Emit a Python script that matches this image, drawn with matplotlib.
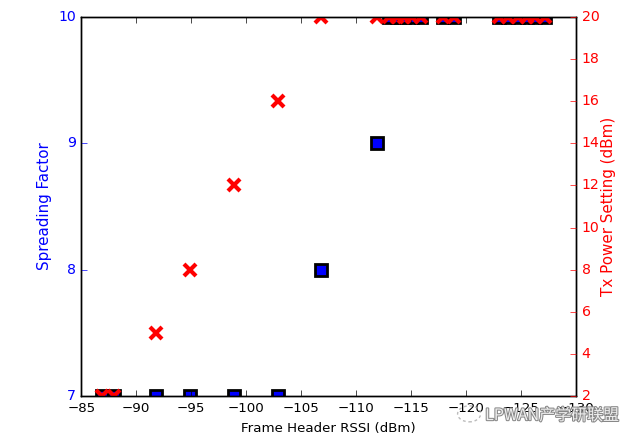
import matplotlib
matplotlib.use("Agg")
import matplotlib.pyplot as plt
import matplotlib.patheffects as pe
from matplotlib.patches import Circle

plt.style.use("classic")

rssi = [-86.9, -88.0, -91.8, -94.9, -98.9, -102.9, -106.8, -111.9,
        -113.0, -113.7, -114.4, -115.1, -115.9, -117.9, -118.9,
        -123.0, -123.8, -124.7, -125.5, -126.3, -127.2]
sf = [7, 7, 7, 7, 7, 7, 8, 9,
      10, 10, 10, 10, 10, 10, 10,
      10, 10, 10, 10, 10, 10]
rssi_tx = [-86.9, -88.0, -91.8, -94.9, -98.9, -102.9, -106.8, -111.9,
           -113.0, -113.7, -114.4, -115.1, -115.9, -117.9, -118.9,
           -123.0, -123.8, -124.7, -125.5, -126.3, -127.2]
tx = [2, 2, 5, 8, 12, 16, 20, 20,
      20, 20, 20, 20, 20, 20, 20,
      20, 20, 20, 20, 20, 20]
xticks = [-85, -90, -95, -100, -105, -110, -115, -120, -125, -130]
sf_ticks = [7, 8, 9, 10]
tx_ticks = [2, 4, 6, 8, 10, 12, 14, 16, 18, 20]

FS = 9.6
FSY = 10.9

fig = plt.figure(figsize=(6.4, 4.45), dpi=100, facecolor="white")
ax1 = fig.add_axes([0.127, 0.110, 0.773, 0.852])
ax1.plot(rssi, sf, linestyle="none", marker="s", markersize=9,
         markerfacecolor="blue", markeredgecolor="black", markeredgewidth=2)
ax1.set_xlim(-85, -130)
ax1.set_ylim(7, 10)
ax1.set_xticks(xticks)
ax1.set_yticks(sf_ticks)
ax1.set_xlabel("Frame Header RSSI (dBm)", fontsize=FS)
ax1.set_ylabel("Spreading Factor", color="blue", fontsize=FSY, labelpad=4)
ax1.tick_params(axis="y", colors="blue", labelsize=FS + 0.6)
ax1.tick_params(axis="x", labelsize=FS)

ax2 = ax1.twinx()
ax2.plot(rssi_tx, tx, linestyle="none", marker="x", markersize=8,
         markeredgecolor="red", markeredgewidth=3)
ax2.set_ylim(2, 20)
ax2.set_yticks(tx_ticks)
ax2.set_ylabel("Tx Power Setting (dBm)", color="red", fontsize=FSY, labelpad=1)
ax2.tick_params(axis="y", colors="red", labelsize=FS + 0.6)
ax2.set_xlim(-85, -130)

# watermark
fig.patches.append(Circle((0.733, 0.070), 0.018, transform=fig.transFigure,
                          facecolor="none", edgecolor="#aaaaaa",
                          linestyle=(0, (2, 2)), linewidth=1, alpha=0.8))
fig.text(0.758, 0.066, "LPWAN产学研联盟", fontsize=11.5, color="#eeeeee",
         family=["Noto Sans CJK SC", "DejaVu Sans"], va="center", ha="left",
         path_effects=[pe.withStroke(linewidth=1.5, foreground="#888888")])

fig.savefig("out.png", dpi=100, facecolor="white")
